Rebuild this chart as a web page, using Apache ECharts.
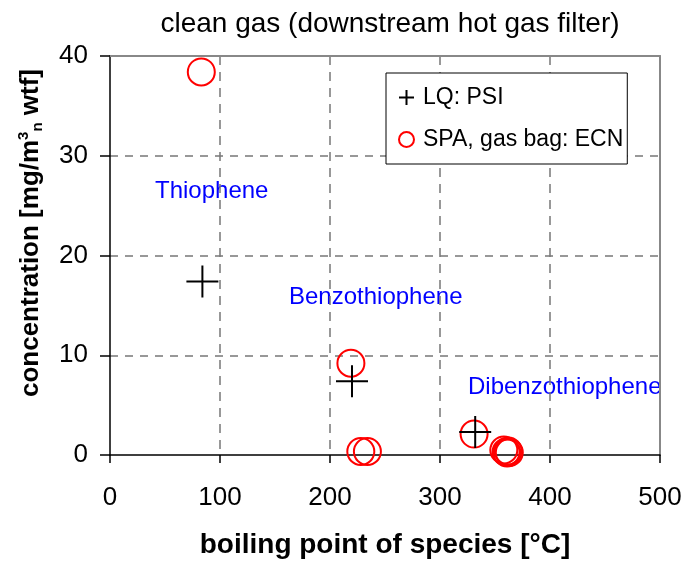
<!DOCTYPE html>
<html>
<head>
<meta charset="utf-8">
<script src="https://cdn.jsdelivr.net/npm/echarts@6/dist/echarts.min.js"></script>
<style>
  html, body { margin: 0; padding: 0; background: #fff; }
  #chart { width: 685px; height: 564px; }
</style>
</head>
<body>
<div id="chart"></div>
<script>
// boiling point [°C] / concentration [mg/m3n wtf]
const lqX = [84, 220, 332]
const lqY = [17.4, 7.4, 2.3]
const spaX = [83, 219, 228, 234, 331, 358, 360, 361, 362, 363]
const spaY = [38.4, 9.2, 0.35, 0.35, 2.1, 0.5, 0.3, 0.2, 0.4, 0.25]
const xTicks = [0, 100, 200, 300, 400, 500]
const yTicks = [0, 10, 20, 30, 40]

const plusPath = 'path://M16,0 L16,32 M0,16 L32,16'
const font = 'Arial, "Liberation Sans", Helvetica, sans-serif'

const chart = echarts.init(document.getElementById('chart'))

const option = {
  backgroundColor: '#fff',
  animation: false,
  textStyle: { fontFamily: font },
  title: {
    text: 'clean gas (downstream hot gas filter)',
    left: 385,
    textAlign: 'center',
    top: 5,
    textStyle: { fontSize: 28, fontWeight: 'normal', color: '#000', fontFamily: font }
  },
  grid: { left: 110, right: 25, top: 56, bottom: 109 },
  legend: {
    orient: 'vertical',
    left: 386,
    top: 73,
    padding: [13, 4, 13, 12],
    itemGap: 19,
    itemWidth: 15,
    itemHeight: 15,
    backgroundColor: '#fff',
    borderColor: '#000',
    borderWidth: 1,
    borderRadius: 0,
    textStyle: { fontSize: 23, color: '#000', lineHeight: 22, padding: [0, 0, 0, 4], fontFamily: font },
    data: [
      { name: 'LQ: PSI', icon: plusPath },
      { name: 'SPA, gas bag: ECN', icon: 'circle' }
    ]
  },
  xAxis: [
    {
      type: 'value',
      min: xTicks[0],
      max: xTicks[xTicks.length - 1],
      interval: 100,
      name: 'boiling point of species [°C]',
      nameLocation: 'middle',
      nameGap: 76,
      nameTextStyle: { fontSize: 28, fontWeight: 'bold', color: '#000', fontFamily: font },
      axisLine: { onZero: false, lineStyle: { color: '#000', width: 1.5 } },
      axisTick: { show: true, length: 8, lineStyle: { color: '#000', width: 1.5 } },
      axisLabel: { fontSize: 26, color: '#000', margin: 30, fontFamily: font },
      splitLine: {
        show: true, showMinLine: false, showMaxLine: false,
        lineStyle: { color: '#777', width: 1.5, type: [9, 7] }
      }
    },
    {
      type: 'value', position: 'top', min: 0, max: 500,
      axisLine: { show: true, onZero: false, lineStyle: { color: '#888', width: 2 } },
      axisTick: { show: false }, axisLabel: { show: false }, splitLine: { show: false }
    }
  ],
  yAxis: [
    {
      type: 'value',
      min: yTicks[0],
      max: yTicks[yTicks.length - 1],
      interval: 10,
      axisLine: { show: true, onZero: false, lineStyle: { color: '#000', width: 1.5 } },
      axisTick: { show: true, length: 10, lineStyle: { color: '#000', width: 1.5 } },
      axisLabel: { fontSize: 26, color: '#000', margin: 22, fontFamily: font },
      splitLine: {
        show: true, showMinLine: false, showMaxLine: false,
        lineStyle: { color: '#777', width: 1.5, type: [8, 7] }
      }
    },
    {
      type: 'value', position: 'right', min: 0, max: 40,
      axisLine: { show: true, onZero: false, lineStyle: { color: '#888', width: 2 } },
      axisTick: { show: false }, axisLabel: { show: false }, splitLine: { show: false }
    }
  ],
  graphic: [
    {
      type: 'text', x: 31, y: 233, rotation: Math.PI / 2,
      style: {
        text: '{b|concentration [mg/m}{sup|3}{sub|n}{b| wtf]}',
        align: 'center', verticalAlign: 'middle',
        rich: {
          b: { fontSize: 26, fontWeight: 'bold', fontFamily: font, fill: '#000', lineHeight: 29 },
          sup: { fontSize: 15, fontWeight: 'bold', fontFamily: font, fill: '#000', verticalAlign: 'top', lineHeight: 15 },
          sub: { fontSize: 15, fontWeight: 'bold', fontFamily: font, fill: '#000', verticalAlign: 'bottom', lineHeight: 15 }
        }
      }
    },
    {
      type: 'text', x: 155, y: 191,
      style: { text: 'Thiophene', fontSize: 24, fontFamily: font, fill: '#0000ff', verticalAlign: 'middle' }
    },
    {
      type: 'text', x: 289, y: 297,
      style: { text: 'Benzothiophene', fontSize: 24, fontFamily: font, fill: '#0000ff', verticalAlign: 'middle' }
    },
    {
      type: 'text', x: 468, y: 387,
      style: { text: 'Dibenzothiophene', fontSize: 24, fontFamily: font, fill: '#0000ff', verticalAlign: 'middle' }
    }
  ],
  series: [
    {
      name: 'SPA, gas bag: ECN',
      type: 'scatter',
      symbol: 'circle',
      symbolSize: 27,
      itemStyle: { color: 'rgba(0,0,0,0)', borderColor: '#ff0000', borderWidth: 2, opacity: 1 },
      data: spaX.map((x, i) => [x, spaY[i]]),
      z: 3
    },
    {
      name: 'LQ: PSI',
      type: 'scatter',
      symbol: plusPath,
      symbolSize: 32,
      itemStyle: { color: 'rgba(0,0,0,0)', borderColor: '#000', borderWidth: 2, opacity: 1 },
      data: lqX.map((x, i) => [x, lqY[i]]),
      z: 4
    }
  ]
}

chart.setOption(option)
</script>
</body>
</html>
